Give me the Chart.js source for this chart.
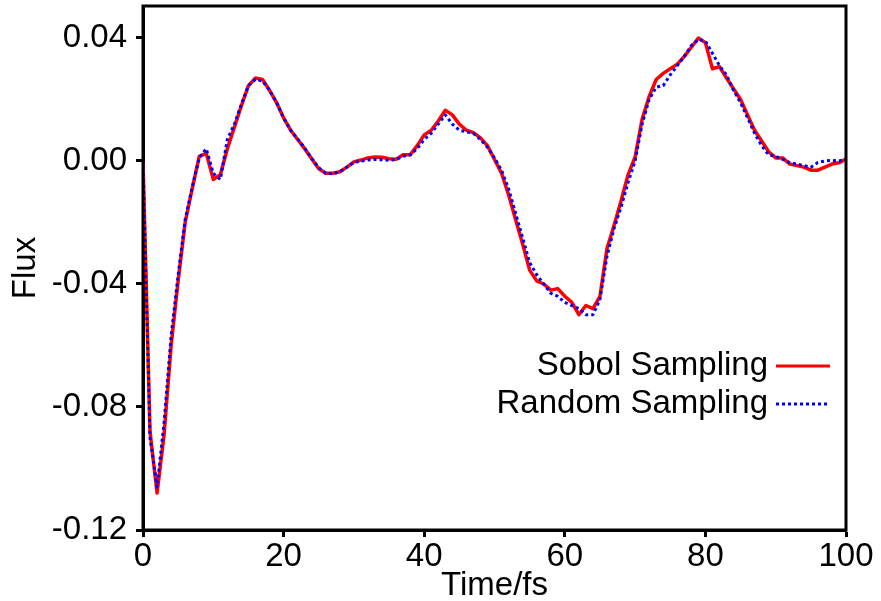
<!DOCTYPE html>
<html>
<head>
  <meta charset="utf-8">
  <title>Flux</title>
  <script src="https://cdn.jsdelivr.net/npm/chart.js"></script>
  <style>
    body { margin: 0; background: #fff; }
    #wrap { width: 881px; height: 601px; }
  </style>
</head>
<body>
<div id="wrap"><canvas id="fluxChart" width="881" height="601"></canvas></div>
<script>
// time axis (fs)
const times = [
  0, 1, 2, 3, 4, 5, 6, 7, 8, 9,
  10, 11, 12, 13, 14, 15, 16, 17, 18, 19,
  20, 21, 22, 23, 24, 25, 26, 27, 28, 29,
  30, 31, 32, 33, 34, 35, 36, 37, 38, 39,
  40, 41, 42, 43, 44, 45, 46, 47, 48, 49,
  50, 51, 52, 53, 54, 55, 56, 57, 58, 59,
  60, 61, 62, 63, 64, 65, 66, 67, 68, 69,
  70, 71, 72, 73, 74, 75, 76, 77, 78, 79,
  80, 81, 82, 83, 84, 85, 86, 87, 88, 89,
  90, 91, 92, 93, 94, 95, 96, 97, 98, 99,
  100
];

// Sobol sampling
const sobolFlux = [
  0.0000, -0.0880, -0.1080, -0.0890, -0.0600, -0.0390, -0.0200, -0.0090, 0.0015, 0.0025,
  -0.0060, -0.0045, 0.0040, 0.0110, 0.0180, 0.0245, 0.0270, 0.0265, 0.0230, 0.0190,
  0.0140, 0.0100, 0.0070, 0.0040, 0.0007, -0.0025, -0.0040, -0.0040, -0.0035, -0.0020,
  -0.0003, 0.0003, 0.0010, 0.0013, 0.0012, 0.0007, 0.0006, 0.0020, 0.0020, 0.0050,
  0.0085, 0.0100, 0.0130, 0.0165, 0.0150, 0.0120, 0.0100, 0.0092, 0.0075, 0.0050,
  0.0005, -0.0040, -0.0110, -0.0190, -0.0270, -0.0355, -0.0390, -0.0400, -0.0420, -0.0415,
  -0.0440, -0.0460, -0.0500, -0.0470, -0.0480, -0.0440, -0.0285, -0.0210, -0.0130, -0.0045,
  0.0013, 0.0136, 0.0210, 0.0265, 0.0285, 0.0300, 0.0315, 0.0340, 0.0370, 0.0400,
  0.0385, 0.0300, 0.0307, 0.0270, 0.0235, 0.0200, 0.0150, 0.0100, 0.0065, 0.0030,
  0.0010, 0.0010, -0.0010, -0.0015, -0.0020, -0.0030, -0.0030, -0.0020, -0.0010, -0.0006,
  0.0006
];

// Random sampling
const randomFlux = [
  0.0000, -0.0900, -0.1060, -0.0850, -0.0570, -0.0370, -0.0190, -0.0085, 0.0010, 0.0040,
  -0.0040, -0.0060, 0.0070, 0.0120, 0.0185, 0.0245, 0.0265, 0.0260, 0.0230, 0.0190,
  0.0140, 0.0100, 0.0072, 0.0042, 0.0008, -0.0022, -0.0040, -0.0042, -0.0035, -0.0020,
  -0.0005, 0.0000, 0.0003, 0.0005, 0.0004, 0.0002, 0.0005, 0.0015, 0.0020, 0.0040,
  0.0070, 0.0090, 0.0120, 0.0150, 0.0120, 0.0100, 0.0095, 0.0090, 0.0070, 0.0045,
  0.0010, -0.0030, -0.0090, -0.0170, -0.0250, -0.0330, -0.0370, -0.0400, -0.0430, -0.0440,
  -0.0460, -0.0470, -0.0480, -0.0500, -0.0500, -0.0450, -0.0310, -0.0220, -0.0150, -0.0070,
  0.0000, 0.0120, 0.0200, 0.0240, 0.0245, 0.0280, 0.0310, 0.0340, 0.0375, 0.0395,
  0.0390, 0.0350, 0.0310, 0.0280, 0.0230, 0.0190, 0.0140, 0.0090, 0.0050, 0.0020,
  0.0015, 0.0005, -0.0005, -0.0010, -0.0015, -0.0020, -0.0005, 0.0000, 0.0002, 0.0000,
  0.0006
];

const xTicks = [0, 20, 40, 60, 80, 100];
const yTicks = [-0.12, -0.08, -0.04, 0.00, 0.04];
const seriesNames = ['Sobol Sampling', 'Random Sampling'];

const FONT = 'Liberation Sans, Arial, sans-serif';
const FS = 33;

function toPoints(ys) {
  return times.map((t, i) => ({ x: t, y: ys[i] }));
}

// frame around the plot + legend with the line sample on the right
const framePlugin = {
  id: 'frame',
  afterDraw(chart) {
    const { ctx, chartArea: a } = chart;
    ctx.save();
    ctx.strokeStyle = '#000';
    ctx.lineWidth = 3;
    ctx.strokeRect(a.left, a.top, a.right - a.left, a.bottom - a.top);

    ctx.font = FS + 'px ' + FONT;
    ctx.textAlign = 'right';
    ctx.textBaseline = 'middle';
    ctx.fillStyle = '#000';
    const ds = chart.data.datasets;
    const rows = [366, 404];
    for (let i = 0; i < ds.length; i++) {
      const y = rows[i];
      ctx.fillText(ds[i].label, 768, y);
      ctx.beginPath();
      ctx.strokeStyle = ds[i].borderColor;
      ctx.lineWidth = 3;
      ctx.setLineDash(ds[i].borderDash || []);
      ctx.moveTo(776, y);
      ctx.lineTo(830, y);
      ctx.stroke();
      ctx.setLineDash([]);
    }
    ctx.restore();
  }
};

new Chart(document.getElementById('fluxChart'), {
  type: 'line',
  data: {
    datasets: [
      {
        label: seriesNames[0],
        data: toPoints(sobolFlux),
        borderColor: '#ff0000',
        borderWidth: 3.5,
        borderJoinStyle: 'round',
        pointRadius: 0,
        tension: 0,
        order: 2
      },
      {
        label: seriesNames[1],
        data: toPoints(randomFlux),
        borderColor: '#0000ff',
        borderWidth: 3,
        borderDash: [3, 3],
        borderJoinStyle: 'round',
        pointRadius: 0,
        tension: 0,
        order: 1
      }
    ]
  },
  options: {
    responsive: false,
    animation: false,
    layout: { padding: { top: 6, right: 35, left: 0, bottom: 0 } },
    plugins: {
      legend: { display: false },
      tooltip: { enabled: false }
    },
    scales: {
      x: {
        type: 'linear',
        min: 0,
        max: 100,
        afterBuildTicks(scale) { scale.ticks = xTicks.map(v => ({ value: v })); },
        afterFit(scale) {
          scale.height = 71;
          scale.paddingLeft = 0;
          scale.paddingRight = 0;
        },
        grid: { drawOnChartArea: false, tickLength: 7, tickWidth: 3, color: '#000' },
        border: { color: '#000', width: 3 },
        ticks: { color: '#000', font: { family: FONT, size: FS }, padding: 0, maxRotation: 0 },
        title: {
          display: true,
          text: 'Time/fs',
          color: '#000',
          font: { family: FONT, size: FS },
          padding: { top: 0, bottom: -5 }
        }
      },
      y: {
        min: -0.12,
        max: 0.0504,
        afterBuildTicks(scale) { scale.ticks = yTicks.map(v => ({ value: v })); },
        afterFit(scale) {
          scale.width = 143;
          scale.paddingTop = 0;
          scale.paddingBottom = 0;
        },
        grid: { drawOnChartArea: false, tickLength: 7, tickWidth: 3, color: '#000' },
        border: { color: '#000', width: 3 },
        ticks: {
          color: '#000',
          font: { family: FONT, size: FS },
          padding: 9,
          callback: v => v.toFixed(2)
        },
        title: {
          display: true,
          text: 'Flux',
          color: '#000',
          font: { family: FONT, size: FS },
          padding: { top: 6, bottom: 0 }
        }
      }
    }
  },
  plugins: [framePlugin]
});
</script>
</body>
</html>
